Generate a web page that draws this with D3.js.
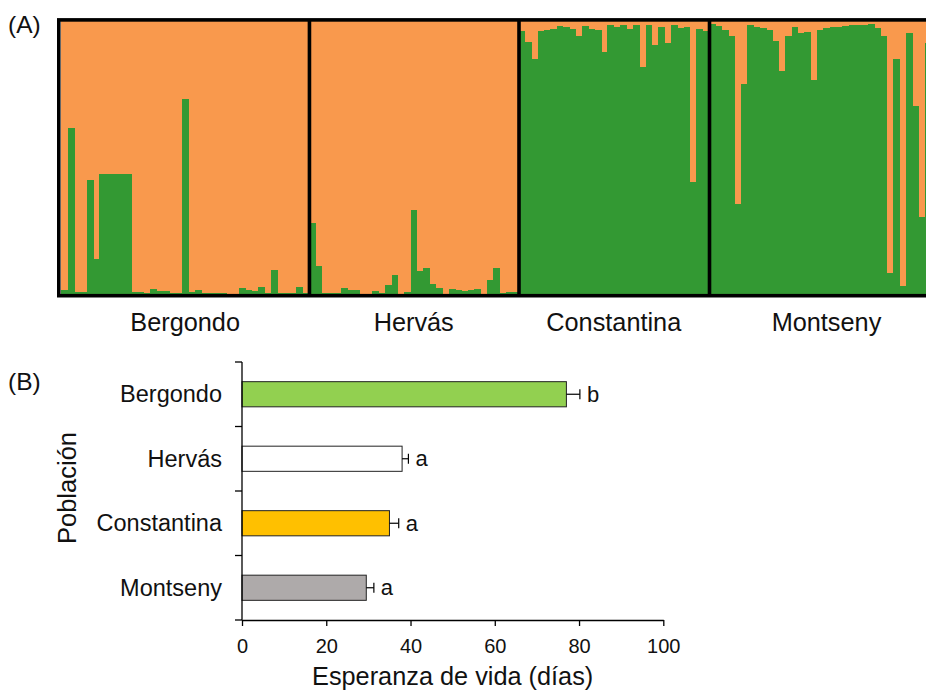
<!DOCTYPE html>
<html>
<head>
<meta charset="utf-8">
<script src="https://cdn.jsdelivr.net/npm/d3@7"></script>
<style>
  body { margin: 0; background: #fff; }
  text { font-family: "Liberation Sans", Arial, sans-serif; fill: #111; }
</style>
</head>
<body>
<svg id="chart" width="926" height="696"></svg>
<script>
// ---------- panel A: share of the green cluster for each individual ----------
const populations = ["Bergondo", "Hervás", "Constantina", "Montseny"];

const bergondoGreen = [0.02, 0.61, 0.01, 0.01, 0.42, 0.13, 0.44, 0.44, 0.44, 0.44, 0.44,
  0.01, 0.012, 0.009, 0.023, 0.015, 0.015, 0.007, 0.007, 0.716, 0.011, 0.02, 0.009,
  0.006, 0.009, 0.009, 0.005, 0.005, 0.027, 0.017, 0.015, 0.03, 0.009, 0.093, 0.009,
  0.009, 0.009, 0.03, 0.009];
const hervasGreen = [0.263, 0.106, 0.009, 0.009, 0.009, 0.027, 0.017, 0.017, 0.005,
  0.005, 0.015, 0.009, 0.037, 0.073, 0.005, 0.011, 0.312, 0.088, 0.097, 0.039, 0.027,
  0.005, 0.023, 0.017, 0.015, 0.02, 0.023, 0.005, 0.054, 0.097, 0.009, 0.012, 0.012];
const constantinaGreen = [0.963, 0.924, 0.862, 0.963, 0.967, 0.972, 0.982, 0.979, 0.97,
  0.947, 0.982, 0.972, 0.967, 0.886, 0.984, 0.979, 0.984, 0.97, 0.984, 0.832, 0.984,
  0.911, 0.979, 0.918, 0.984, 0.976, 0.979, 0.413, 0.97, 0.963];
const montsenyGreen = [0.988, 0.982, 0.967, 0.947, 0.333, 0.771, 0.984, 0.979, 0.976,
  0.967, 0.927, 0.816, 0.947, 0.979, 0.955, 0.96, 0.783, 0.967, 0.976, 0.979, 0.979,
  0.982, 0.984, 0.984, 0.984, 0.988, 0.976, 0.945, 0.082, 0.862, 0.033, 0.955, 0.69,
  0.284, 0.92, 0.96, 0.97];

// ---------- panel B: life expectancy ----------
const lifeMean = [77, 38, 35, 29.5];
const lifeErr = [3.2, 1.5, 2.2, 1.8];
const lifeGroup = ["b", "a", "a", "a"];
const lifeColors = ["#92d050", "#ffffff", "#ffc000", "#aeaaaa"];
const xTicks = [0, 20, 40, 60, 80, 100];

const svg = d3.select("#chart");

// ======================= (A) structure plot =======================
const groups = [bergondoGreen, hervasGreen, constantinaGreen, montsenyGreen];
const individuals = [];
groups.forEach((g, p) => g.forEach(v => individuals.push({ pop: p, green: v })));

const barW = 6.35;
const xA = d3.scaleBand()
  .domain(d3.range(individuals.length))
  .range([61.3, 61.3 + individuals.length * barW]);
const yA = d3.scaleLinear().domain([0, 1]).range([295, 21]);

const plotA = svg.append("g").attr("shape-rendering", "crispEdges");
plotA.selectAll("rect.orange")
  .data(individuals)
  .join("rect")
  .attr("class", "orange")
  .attr("x", (d, i) => xA(i))
  .attr("width", xA.bandwidth() + 0.5)
  .attr("y", yA(1))
  .attr("height", d => yA(d.green) - yA(1))
  .attr("fill", "#f9994d");
plotA.selectAll("rect.green")
  .data(individuals)
  .join("rect")
  .attr("class", "green")
  .attr("x", (d, i) => xA(i))
  .attr("width", xA.bandwidth() + 0.5)
  .attr("y", d => yA(d.green))
  .attr("height", d => yA(0) - yA(d.green))
  .attr("fill", "#339933");

// population boundaries and labels
let start = 0;
const bounds = groups.map(g => {
  const b = [start, start + g.length];
  start += g.length;
  return b;
});
const xStart = i => xA(0) + i * barW;

const frame = svg.append("g");
frame.append("rect")
  .attr("x", 58.8).attr("y", 19.9)
  .attr("width", 900).attr("height", 275.8)
  .attr("fill", "none").attr("stroke", "#000").attr("stroke-width", 3.6);

frame.selectAll("line.sep")
  .data(bounds.slice(1))
  .join("line")
  .attr("class", "sep")
  .attr("x1", d => xStart(d[0]) + 0.5).attr("x2", d => xStart(d[0]) + 0.5)
  .attr("y1", 19.9).attr("y2", 295.7)
  .attr("stroke", "#000").attr("stroke-width", 3.6);

frame.selectAll("text.pop")
  .data(bounds)
  .join("text")
  .attr("class", "pop")
  .attr("x", d => (xStart(d[0]) + xStart(d[1])) / 2)
  .attr("y", 331)
  .attr("text-anchor", "middle")
  .style("font-size", "25.3px")
  .text((d, i) => populations[i]);

svg.append("text").attr("x", 8).attr("y", 33).style("font-size", "24.5px").text("(A)");
svg.append("text").attr("x", 8).attr("y", 390).style("font-size", "24.5px").text("(B)");

// ======================= (B) bar chart =======================
const xB = d3.scaleLinear().domain([0, 100]).range([242, 663.3]);
const yB = d3.scaleBand().domain(populations).range([362, 620])
  .paddingInner(0.61).paddingOuter(0.305);

const plotB = svg.append("g");

plotB.selectAll("rect.bar")
  .data(populations)
  .join("rect")
  .attr("class", "bar")
  .attr("x", xB(0))
  .attr("y", d => yB(d))
  .attr("width", (d, i) => xB(lifeMean[i]) - xB(0))
  .attr("height", yB.bandwidth())
  .attr("fill", (d, i) => lifeColors[i])
  .attr("stroke", "#222").attr("stroke-width", 1);

// error bars
const cy = d => yB(d) + yB.bandwidth() / 2;
plotB.selectAll("line.err")
  .data(populations)
  .join("line")
  .attr("class", "err")
  .attr("x1", (d, i) => xB(lifeMean[i])).attr("x2", (d, i) => xB(lifeMean[i] + lifeErr[i]))
  .attr("y1", cy).attr("y2", cy)
  .attr("stroke", "#000").attr("stroke-width", 1.2);
plotB.selectAll("line.cap")
  .data(populations)
  .join("line")
  .attr("class", "cap")
  .attr("x1", (d, i) => xB(lifeMean[i] + lifeErr[i])).attr("x2", (d, i) => xB(lifeMean[i] + lifeErr[i]))
  .attr("y1", d => cy(d) - 5).attr("y2", d => cy(d) + 5)
  .attr("stroke", "#000").attr("stroke-width", 1.2);

plotB.selectAll("text.grp")
  .data(populations)
  .join("text")
  .attr("class", "grp")
  .attr("x", (d, i) => xB(lifeMean[i] + lifeErr[i]) + 7)
  .attr("y", cy)
  .attr("dy", "0.35em")
  .style("font-size", "22px")
  .text((d, i) => lifeGroup[i]);

// x axis
const xAxis = plotB.append("g")
  .attr("transform", "translate(0,620)")
  .call(d3.axisBottom(xB).tickValues(xTicks).tickSize(6).tickSizeOuter(0));
xAxis.select(".domain").attr("stroke", "#000").attr("stroke-width", 1.3);
xAxis.selectAll(".tick line").attr("stroke", "#000").attr("stroke-width", 1.3);
xAxis.selectAll(".tick text")
  .attr("y", 32.7).attr("dy", 0)
  .style("font-size", "20px").style("font-family", "Liberation Sans, Arial, sans-serif")
  .attr("fill", "#111");

// y axis: line, ticks at band edges, category labels
plotB.append("line")
  .attr("x1", 242).attr("x2", 242).attr("y1", 362).attr("y2", 620)
  .attr("stroke", "#000").attr("stroke-width", 1.3);
const edges = populations.map(d => yB(d) - yB.step() * yB.paddingInner() / 2)
  .concat([620]);
edges[0] = 362;
plotB.selectAll("line.ytick")
  .data(edges)
  .join("line")
  .attr("class", "ytick")
  .attr("x1", 235).attr("x2", 242)
  .attr("y1", d => d).attr("y2", d => d)
  .attr("stroke", "#000").attr("stroke-width", 1.3);
plotB.selectAll("text.cat")
  .data(populations)
  .join("text")
  .attr("class", "cat")
  .attr("x", 222)
  .attr("y", cy)
  .attr("dy", "0.35em")
  .attr("text-anchor", "end")
  .style("font-size", "23.5px")
  .text(d => d);

// axis titles
svg.append("text")
  .attr("x", xB(50)).attr("y", 685)
  .attr("text-anchor", "middle")
  .style("font-size", "25.3px")
  .text("Esperanza de vida (días)");
svg.append("text")
  .attr("transform", "translate(76,488) rotate(-90)")
  .attr("text-anchor", "middle")
  .style("font-size", "25.5px")
  .text("Población");
</script>
</body>
</html>
